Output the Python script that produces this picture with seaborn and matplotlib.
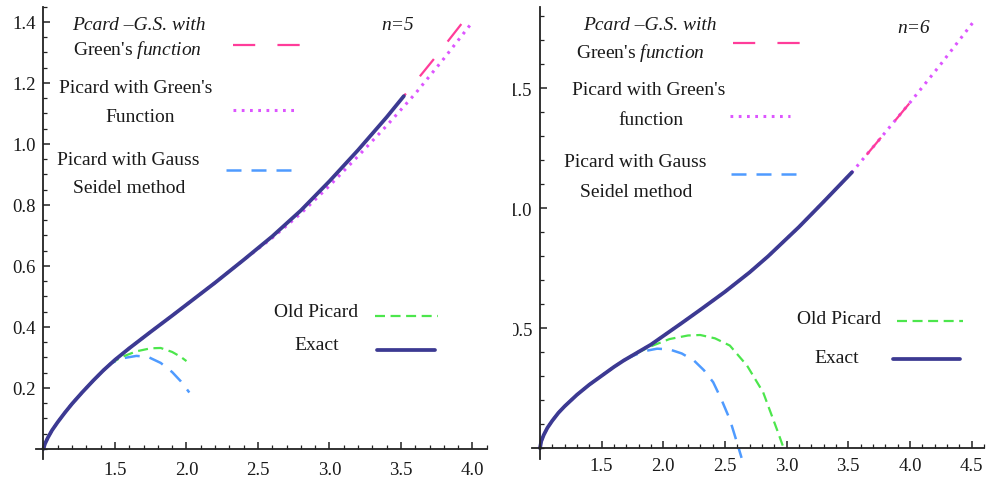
import numpy as np
import matplotlib.pyplot as plt
import seaborn as sns
from matplotlib.legend import Legend
from matplotlib.ticker import MultipleLocator
from matplotlib.transforms import Bbox, TransformedBbox

# ---- n = 5 (left panel) ----
exact5_x = [1.0, 1.01, 1.03, 1.06, 1.1, 1.15, 1.2, 1.27, 1.35, 1.42, 1.5, 1.6,
            1.75, 1.9, 2.0, 2.2, 2.4, 2.6, 2.8, 3.0, 3.2, 3.4, 3.52]
exact5_y = [0.0, 0.016, 0.036, 0.061, 0.088, 0.119, 0.148, 0.185, 0.225, 0.258, 0.292, 0.33,
            0.384, 0.437, 0.473, 0.545, 0.62, 0.697, 0.782, 0.878, 0.98, 1.088, 1.157]
green5_x = [1.47, 1.55, 1.65, 1.75, 1.82, 1.9, 1.96, 2.0]
green5_y = [0.28, 0.302, 0.32, 0.33, 0.331, 0.318, 0.302, 0.288]
blue5_x = [1.47, 1.55, 1.65, 1.73, 1.82, 1.9, 1.96, 2.02]
blue5_y = [0.28, 0.297, 0.305, 0.302, 0.282, 0.252, 0.222, 0.185]
dotted5_x = [2.6, 2.8, 3.0, 3.2, 3.4, 3.6, 3.8, 4.0]
dotted5_y = [0.692, 0.772, 0.863, 0.96, 1.06, 1.165, 1.28, 1.40]
pink5_x = [3.75, 3.95]
pink5_y = [1.29, 1.41]

# ---- n = 6 (right panel) ----
exact6_x = [1.0, 1.01, 1.03, 1.06, 1.1, 1.15, 1.2, 1.3, 1.4, 1.5, 1.6, 1.68, 1.76,
            1.9, 2.0, 2.15, 2.3, 2.5, 2.7, 2.85, 3.1, 3.3, 3.53]
exact6_y = [0.0, 0.029, 0.055, 0.085, 0.115, 0.148, 0.175, 0.223, 0.265, 0.302, 0.339, 0.366, 0.39,
            0.432, 0.468, 0.522, 0.577, 0.652, 0.733, 0.8, 0.922, 1.027, 1.15]
green6_x = [1.76, 1.9, 2.05, 2.2, 2.3, 2.42, 2.54, 2.68, 2.81, 2.87, 2.93, 2.98]
green6_y = [0.39, 0.425, 0.455, 0.47, 0.472, 0.458, 0.428, 0.344, 0.233, 0.15, 0.067, -0.005]
blue6_x = [1.757, 1.85, 1.95, 2.05, 2.15, 2.25, 2.33, 2.405, 2.47, 2.54, 2.6, 2.635]
blue6_y = [0.386, 0.405, 0.415, 0.412, 0.395, 0.365, 0.325, 0.275, 0.205, 0.12, 0.02, -0.04]
dotted6_x = [3.75, 4.0, 4.25, 4.52]
dotted6_y = [1.285, 1.44, 1.6, 1.78]
pink6_x = [3.75, 4.02]
pink6_y = [1.285, 1.452]

C_EXACT = "#3C3A92"
C_PINK = "#FF3C9A"
C_DOT = "#DD55FF"
C_BLUE = "#4F9BFF"
C_GREEN = "#4CE64C"
TXT = "#1a1a1a"

sns.set_theme(style="white")
plt.rcParams["font.family"] = ["Liberation Serif", "DejaVu Serif"]
plt.rcParams["mathtext.fontset"] = "custom"
plt.rcParams["mathtext.rm"] = "Liberation Serif"
plt.rcParams["mathtext.it"] = "Liberation Serif:italic"


def join(ex, ey, bx, by, before=True):
    ex, ey = np.asarray(ex), np.asarray(ey)
    if before:
        m = ex < bx[0]
        return np.r_[ex[m], bx], np.r_[ey[m], by]
    return np.r_[ex, bx], np.r_[ey, by]


def draw(ax, ex, ey, dx, dy, px, py, bx, by, gx, gy):
    x, y = join(ex, ey, dx, dy, before=True)
    sns.lineplot(x=x, y=y, ax=ax, color=C_DOT, lw=2.2, linestyle=(0, (0.9, 1.8)),
                 sort=False, estimator=None)
    dot = ax.lines[-1]
    x, y = join(ex, ey, px, py, before=False)
    sns.lineplot(x=x, y=y, ax=ax, color=C_PINK, lw=1.6, linestyle=(0, (10, 10)),
                 sort=False, estimator=None)
    pink = ax.lines[-1]
    x, y = join(ex, ey, bx, by)
    sns.lineplot(x=x, y=y, ax=ax, color=C_BLUE, lw=1.8, linestyle=(0, (6, 4)),
                 sort=False, estimator=None)
    blue = ax.lines[-1]
    x, y = join(ex, ey, gx, gy)
    sns.lineplot(x=x, y=y, ax=ax, color=C_GREEN, lw=1.6, linestyle=(0, (4.5, 2.5)),
                 sort=False, estimator=None)
    green = ax.lines[-1]
    sns.lineplot(x=ex, y=ey, ax=ax, color=C_EXACT, lw=2.7, sort=False, estimator=None)
    exact = ax.lines[-1]
    return pink, dot, blue, green, exact


def key(ax, line, x, y, width_px):
    fs = 10
    leg = Legend(ax, [line], [""], loc="center", bbox_to_anchor=(x, y),
                 bbox_transform=ax.transData, frameon=False,
                 handlelength=width_px / (fs * 100 / 72), handletextpad=0,
                 borderpad=0, borderaxespad=0, fontsize=fs)
    ax.add_artist(leg)


def style(ax, xlim, ylim, xticks, yticks, yminor, xpad):
    ax.set_xlim(xlim)
    ax.set_ylim(ylim)
    ax.spines["top"].set_visible(False)
    ax.spines["right"].set_visible(False)
    ax.spines["left"].set_position(("data", 1.0))
    ax.spines["bottom"].set_position(("data", 0.0))
    for s in ["left", "bottom"]:
        ax.spines[s].set_linewidth(1.3)
        ax.spines[s].set_color("#222222")
    ax.set_xticks(xticks)
    ax.set_yticks(yticks)
    ax.xaxis.set_minor_locator(MultipleLocator(0.1))
    ax.yaxis.set_minor_locator(MultipleLocator(yminor))
    ax.tick_params(which="both", direction="in", bottom=True, left=True,
                   colors="#222222", labelsize=13.5, labelcolor=TXT)
    ax.tick_params(which="major", length=5, width=1.1)
    ax.tick_params(which="minor", length=3, width=0.9)
    ax.tick_params(axis="x", pad=xpad)
    ax.tick_params(axis="y", pad=5.5)
    ax.set_xlabel("")
    ax.set_ylabel("")


def text(ax, x, y, s, **kw):
    ax.text(x, y, s, ha="center", va="center", fontsize=14, color=TXT, **kw)


fig = plt.figure(figsize=(9.91, 4.81), dpi=100)
ax1 = fig.add_axes([0.0359, 0.0437, 0.4553, 0.9402])
ax2 = fig.add_axes([0.5368, 0.0435, 0.456, 0.9405])

# left panel
pink, dot, blue, green, exact = draw(ax1, exact5_x, exact5_y, dotted5_x, dotted5_y,
                                     pink5_x, pink5_y, blue5_x, blue5_y, green5_x, green5_y)
style(ax1, (0.945, 4.1), (-0.033, 1.45), [1.5, 2.0, 2.5, 3.0, 3.5, 4.0],
      [0.2, 0.4, 0.6, 0.8, 1.0, 1.2, 1.4], 0.05, 8.5)
text(ax1, 1.664, 1.393, "Pcard –G.S. with", fontstyle="italic")
text(ax1, 1.657, 1.311, r"Green's $\mathit{function}$")
text(ax1, 1.647, 1.184, "Picard with Green's")
text(ax1, 1.678, 1.089, "Function")
text(ax1, 1.591, 0.948, "Picard with Gauss")
text(ax1, 1.598, 0.856, "Seidel method")
text(ax1, 3.476, 1.393, "n=5", fontstyle="italic")
text(ax1, 2.906, 0.452, "Old Picard")
text(ax1, 2.91, 0.344, "Exact")
key(ax1, pink, 2.566, 1.321, 69)
key(ax1, dot, 2.542, 1.108, 62)
key(ax1, blue, 2.517, 0.911, 69)
key(ax1, green, 3.538, 0.43, 63)
key(ax1, exact, 3.535, 0.32, 58)

# right panel
pink, dot, blue, green, exact = draw(ax2, exact6_x, exact6_y, dotted6_x, dotted6_y,
                                     pink6_x, pink6_y, blue6_x, blue6_y, green6_x, green6_y)
style(ax2, (0.935, 4.6), (-0.045, 1.84), [1.5, 2.0, 2.5, 3.0, 3.5, 4.0, 4.5],
      [0.5, 1.0, 1.5], 0.1, 6.5)
text(ax2, 1.892, 1.764, "Pcard –G.S. with", fontstyle="italic")
text(ax2, 1.818, 1.651, r"Green's $\mathit{function}$")
text(ax2, 1.878, 1.497, "Picard with Green's")
text(ax2, 1.899, 1.372, "function")
text(ax2, 1.77, 1.197, "Picard with Gauss")
text(ax2, 1.784, 1.072, "Seidel method")
text(ax2, 4.033, 1.755, "n=6", fontstyle="italic")
text(ax2, 3.425, 0.539, "Old Picard")
text(ax2, 3.406, 0.38, "Exact")
key(ax2, pink, 2.837, 1.685, 67)
key(ax2, dot, 2.784, 1.380, 60)
key(ax2, blue, 2.817, 1.139, 66)
key(ax2, green, 4.163, 0.524, 66)
key(ax2, exact, 4.135, 0.366, 67)

# the right panel's y labels are cut off on their left side in the original
clip = TransformedBbox(Bbox.from_extents(513 / 991, 0, 1, 1), fig.transFigure)
for lab in ax2.get_yticklabels():
    lab.set_clip_on(True)
    lab.set_clip_box(clip)

fig.savefig("out.png", dpi=100)
